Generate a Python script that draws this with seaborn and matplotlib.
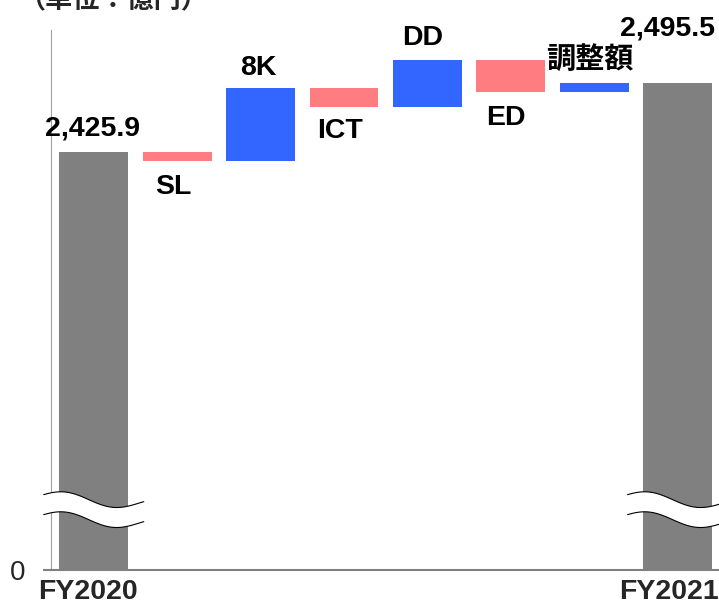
import matplotlib
matplotlib.use('Agg')

import numpy as np
import pandas as pd
import matplotlib.pyplot as plt
import matplotlib.transforms as mtransforms
import seaborn as sns

# values in 億円
start_label = 'FY2020'
end_label = 'FY2021'
start_value = 2425.9
end_value = 2495.5
step_labels = ['SL', '8K', 'ICT', 'DD', 'ED', '調整額']
step_changes = [-9.4, 74.3, -19.2, 47.3, -32.1, 8.7]

total_color = '#808080'
up_color = '#3366FF'
down_color = '#FF7C80'

# waterfall table
levels = start_value + np.cumsum(step_changes)
prev = np.concatenate([[start_value], levels[:-1]])
cats = [start_label] + step_labels + [end_label]
bottoms = np.concatenate([[0], np.minimum(prev, levels), [0]])
heights = np.concatenate([[start_value], np.abs(step_changes), [end_value]])
colors = ([total_color]
          + [up_color if c > 0 else down_color for c in step_changes]
          + [total_color])
df = pd.DataFrame({'item': cats, 'height': heights, 'bottom': bottoms})

sns.set_style('white')
plt.rcParams['font.family'] = ['Liberation Sans', 'Noto Sans CJK JP']

fig = plt.figure(figsize=(7.19, 6.08), dpi=100)
ax = fig.add_axes([0.0716, 0.0617, 0.9284, 0.889])

sns.barplot(data=df, x='item', y='height', bottom=df['bottom'].values,
            color=total_color, width=0.827, saturation=1, linewidth=0,
            errorbar=None, ax=ax)
for patch, c in zip(ax.patches, colors):
    patch.set_facecolor(c)

# broken axis: bottom of the axis stands for 0
y_low, y_high = 2002.2, 2549.2
ax.set_ylim(y_low, y_high)
ax.set_xlim(-0.507, 7.496)

# labels on the bars
tops = bottoms + heights
label_texts = ([f'{start_value:,.1f}'] + step_labels + [f'{end_value:,.1f}'])
label_side = ['above', 'below', 'above', 'below', 'above', 'below', 'above', 'above']
label_dx = [-1, -4, -2, -4, -5, -5, -4, -10]
label_dy = [16, -33, 13, -31, 15, -33, 14, 48]
for i, txt in enumerate(label_texts):
    y = tops[i] if label_side[i] == 'above' else bottoms[i]
    size = 21 if txt == '調整額' else 20.5
    ax.annotate(txt, xy=(i, y), xytext=(label_dx[i], label_dy[i]),
                textcoords='offset pixels', ha='center', va='baseline',
                fontsize=size, fontweight='bold', color='black',
                annotation_clip=False)

# axis styling
for side in ('top', 'right'):
    ax.spines[side].set_visible(False)
ax.spines['left'].set_color('#A0A0A0')
ax.spines['left'].set_linewidth(0.8)
ax.spines['bottom'].set_color('#808080')
ax.spines['bottom'].set_linewidth(1.5)

ax.set_yticks([y_low])
ax.set_yticklabels(['0'])
ax.tick_params(axis='y', length=5.8, width=1.5, color='#808080', pad=13,
               labelsize=20, left=True)
ax.set_xticks([0, 7])
ax.set_xticklabels([start_label, end_label])
ax.tick_params(axis='x', length=0, pad=6, labelsize=20.5)
for lbl in ax.get_xticklabels():
    lbl.set_fontweight('bold')
x_shift = [-6, -9]
for lbl, dx in zip(ax.get_xticklabels(), x_shift):
    lbl.set_transform(lbl.get_transform()
                      + mtransforms.ScaledTranslation(dx / 100, 0, fig.dpi_scale_trans))
ax.set_xlabel('')
ax.set_ylabel('')

# wavy break marks across the total bars
trans = ax.get_xaxis_transform()
t = np.linspace(0, 1, 120)
ax_h_px = 540.5
amp = 6 / ax_h_px
tilt = 7 / ax_h_px
wave = amp * np.cos(2 * np.pi * (t - 0.2)) - tilt * (t - 0.5)
upper = 0.1304 + wave
lower = 0.0934 + wave
for i in (0, 7):
    xs = i - 0.6 + 1.2 * t
    poly_x = np.concatenate([xs, xs[::-1]])
    poly_y = np.concatenate([upper, lower[::-1]])
    ax.fill(poly_x, poly_y, color='white', transform=trans, zorder=5,
            clip_on=False, linewidth=0)
    ax.plot(xs, upper, color='black', lw=0.8, transform=trans, zorder=6, clip_on=False)
    ax.plot(xs, lower, color='black', lw=0.8, transform=trans, zorder=6, clip_on=False)

fig.text(18 / 719, 1 - 7 / 608, '（単位：億円）', ha='left', va='baseline',
         fontsize=19.5, fontweight='bold', family=['Noto Sans CJK JP'])

plt.savefig('out.png', dpi=100)
